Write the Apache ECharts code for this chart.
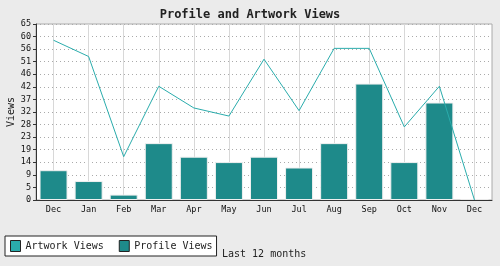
<!DOCTYPE html>
<html><head><meta charset="utf-8">
<script src="https://cdn.jsdelivr.net/npm/echarts@6/dist/echarts.min.js"></script>
<style>html,body{margin:0;padding:0;background:#ebebeb;}#c{width:500px;height:266px;}</style>
</head><body><div id="c"></div>
<script>
const categories = ['Dec','Jan','Feb','Mar','Apr','May','Jun','Jul','Aug','Sep','Oct','Nov','Dec'];
const artworkViews = [59,53,16,42,34,31,52,33,56,56,27,42,0];
const profileViews = [11,7,2,21,16,14,16,12,21,43,14,36,0];
const yTickLabels = ['0','5','9','14','19','23','28','32','37','42','46','51','56','60','65'];
const yMax = 65;
const ySteps = yTickLabels.length - 1;
const mono = 'DejaVu Sans Mono';
// helper axis: half-step slots so that odd slots fall on category centres
const halfSlots = [];
for (let i = 0; i <= categories.length * 2; i++) halfSlots.push('s' + i);
const chart = echarts.init(document.getElementById('c'));
chart.setOption({
  backgroundColor: '#ebebeb',
  animation: false,
  title: {text: 'Profile and Artwork Views', left: 'center', top: 4,
    textStyle: {fontFamily: mono, fontWeight: 'bold', fontSize: 12, color: '#222'}},
  grid: {left: 36, right: 8, top: 24, bottom: 66, outerBoundsMode: 'none', containLabel: false,
    show: true, backgroundColor: '#fff', borderColor: '#aaa', borderWidth: 1},
  legend: {left: 5, top: 236, orient: 'horizontal', backgroundColor: '#fff', borderColor: '#222', borderWidth: 1,
    padding: [4, 4, 4, 5], itemWidth: 10, itemHeight: 11, itemGap: 15,
    textStyle: {fontFamily: mono, fontSize: 10, color: '#222'},
    data: [
      {name: 'Artwork Views', icon: 'rect', itemStyle: {color: '#2aacac', borderColor: '#222', borderWidth: 1}},
      {name: 'Profile Views', icon: 'rect', itemStyle: {color: '#1e8a8a', borderColor: '#222', borderWidth: 1}}
    ]},
  graphic: [{type: 'text', left: 222, top: 249, style: {text: 'Last 12 months', font: '10px "DejaVu Sans Mono"', fill: '#222'}}],
  xAxis: [
    {type: 'category', data: categories, z: 5,
      axisLine: {lineStyle: {color: '#333', width: 1}},
      axisTick: {alignWithLabel: true, length: 3, lineStyle: {color: '#333'}},
      axisLabel: {fontFamily: mono, fontSize: 8.5, color: '#111', margin: 5},
      splitLine: {show: false}},
    {type: 'category', data: halfSlots, boundaryGap: false, position: 'bottom', show: true,
      axisLine: {show: false}, axisTick: {show: false}, axisLabel: {show: false},
      splitLine: {show: true, interval: function (idx) { return idx % 2 === 1; },
        lineStyle: {color: '#d8d8d8', width: 1}}}
  ],
  yAxis: {type: 'value', min: 0, max: yMax, interval: yMax / ySteps,
    name: 'Views', nameLocation: 'middle', nameRotate: 90, nameGap: 20, nameMoveOverlap: false,
    nameTextStyle: {fontFamily: mono, fontSize: 10, color: '#222'},
    axisLine: {show: true, lineStyle: {color: '#333', width: 1}},
    axisTick: {show: true, length: 3, lineStyle: {color: '#333'}},
    axisLabel: {fontFamily: mono, fontSize: 8.5, color: '#111', margin: 5,
      formatter: function (v) { return yTickLabels[Math.round(v / (yMax / ySteps))]; }},
    splitLine: {show: true, lineStyle: {color: '#aaa', type: [1, 3], width: 1}}},
  series: [
    {name: 'Profile Views', type: 'bar', xAxisIndex: 0, data: profileViews, barWidth: 28,
      itemStyle: {color: '#1e8a8a', borderColor: '#f0f0f0', borderWidth: 1}, z: 2},
    {name: 'Artwork Views', type: 'line', xAxisIndex: 0, data: artworkViews, showSymbol: false, symbol: 'none',
      lineStyle: {color: '#2aacac', width: 1}, itemStyle: {color: '#2aacac'}, z: 3}
  ]
});
</script></body></html>
